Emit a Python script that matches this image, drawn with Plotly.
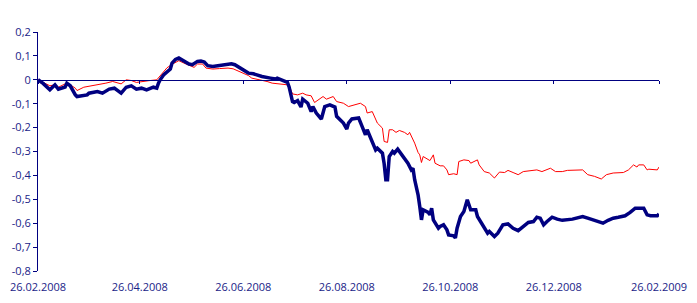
import pandas as pd
import plotly.graph_objects as go

start_date = "2008-02-26"

# days since 26.02.2008 and values
navy_days = [0,3,7,10,12,16,17,19,22,23,29,30,35,38,42,45,49,52,55,58,61,64,68,70,71,72,74,76,78,79,81,83,86,89,91,94,96,98,100,103,106,110,114,116,119,122,124,127,130,132,137,140,141,144,147,148,150,151,153,155,156,159,161,162,164,167,169,172,175,176,178,180,182,183,185,189,191,193,194,197,199,200,203,204,205,206,207,209,210,212,213,215,218,220,221,222,224,225,226,227,230,231,232,233,236,237,239,241,242,245,246,247,249,251,253,255,258,259,262,264,265,266,269,271,274,277,280,283,286,289,292,294,296,298,300,303,306,309,315,321,324,327,330,333,336,339,342,346,349,352,357,359,361,365,366]
navy_vals = [0,-0.015,-0.042,-0.021,-0.039,-0.03,-0.014,-0.025,-0.063,-0.07,-0.063,-0.056,-0.049,-0.056,-0.039,-0.035,-0.056,-0.031,-0.025,-0.039,-0.035,-0.042,-0.031,-0.035,-0.014,0.0,0.02,0.035,0.045,0.07,0.085,0.091,0.077,0.066,0.063,0.077,0.079,0.074,0.059,0.056,0.059,0.063,0.067,0.063,0.049,0.035,0.028,0.025,0.017,0.014,0.007,0.003,0.007,-0.003,-0.011,-0.03,-0.091,-0.095,-0.087,-0.114,-0.081,-0.098,-0.133,-0.112,-0.139,-0.164,-0.112,-0.105,-0.114,-0.153,-0.167,-0.181,-0.206,-0.181,-0.164,-0.16,-0.195,-0.23,-0.209,-0.258,-0.293,-0.286,-0.307,-0.35,-0.418,-0.418,-0.321,-0.3,-0.307,-0.29,-0.3,-0.321,-0.349,-0.377,-0.37,-0.418,-0.481,-0.53,-0.586,-0.544,-0.555,-0.565,-0.537,-0.586,-0.621,-0.614,-0.607,-0.628,-0.649,-0.653,-0.662,-0.621,-0.572,-0.551,-0.502,-0.544,-0.544,-0.572,-0.607,-0.628,-0.642,-0.635,-0.656,-0.642,-0.607,-0.603,-0.621,-0.631,-0.614,-0.597,-0.593,-0.575,-0.579,-0.607,-0.593,-0.575,-0.583,-0.588,-0.583,-0.572,-0.579,-0.586,-0.593,-0.6,-0.588,-0.579,-0.575,-0.569,-0.555,-0.537,-0.537,-0.565,-0.569,-0.569,-0.561]

red_days = [0,3,7,10,12,16,19,22,23,27,32,36,40,44,47,49,52,55,58,61,65,70,72,74,76,79,81,83,86,89,92,94,97,99,103,107,112,115,119,122,124,126,129,132,135,138,142,147,148,150,153,156,158,161,163,165,168,170,174,176,180,183,186,190,193,194,197,199,200,203,204,206,207,209,211,213,216,218,219,222,224,225,226,227,230,231,233,234,237,239,241,242,245,247,248,251,254,255,259,260,263,266,269,272,275,277,280,283,286,290,294,297,302,305,309,312,321,324,328,332,335,339,345,348,351,353,354,357,359,360,365,366]
red_vals = [0,-0.012,-0.025,-0.021,-0.031,-0.017,-0.021,-0.035,-0.045,-0.031,-0.025,-0.021,-0.014,-0.007,-0.014,-0.017,0.0,-0.003,-0.011,-0.007,-0.004,0.0,0.017,0.031,0.05,0.065,0.072,0.08,0.07,0.06,0.052,0.066,0.066,0.049,0.045,0.047,0.049,0.046,0.033,0.023,0.018,0.007,0.003,-0.003,-0.007,-0.014,-0.017,-0.021,-0.025,-0.059,-0.063,-0.056,-0.063,-0.067,-0.095,-0.084,-0.07,-0.081,-0.07,-0.091,-0.098,-0.112,-0.105,-0.098,-0.112,-0.139,-0.133,-0.167,-0.181,-0.202,-0.258,-0.262,-0.209,-0.209,-0.22,-0.212,-0.22,-0.23,-0.22,-0.265,-0.304,-0.314,-0.346,-0.321,-0.335,-0.338,-0.314,-0.349,-0.36,-0.36,-0.377,-0.397,-0.393,-0.397,-0.342,-0.335,-0.338,-0.349,-0.335,-0.356,-0.384,-0.39,-0.411,-0.386,-0.388,-0.379,-0.388,-0.397,-0.384,-0.379,-0.377,-0.384,-0.37,-0.384,-0.384,-0.379,-0.377,-0.397,-0.404,-0.415,-0.397,-0.39,-0.388,-0.377,-0.356,-0.365,-0.356,-0.356,-0.377,-0.374,-0.377,-0.365]

x_tick_dates = ["2008-02-26","2008-04-26","2008-06-26","2008-08-26","2008-10-26","2008-12-26","2009-02-26"]
x_tick_labels = ["26.02.2008","26.04.2008","26.06.2008","26.08.2008","26.10.2008","26.12.2008","26.02.2009"]
y_tick_vals = [0.2,0.1,0,-0.1,-0.2,-0.3,-0.4,-0.5,-0.6,-0.7,-0.8]
y_tick_labels = ["0,2","0,1","0","-0,1","-0,2","-0,3","-0,4","-0,5","-0,6","-0,7","-0,8"]

start = pd.Timestamp(start_date)
navy_x = [start + pd.Timedelta(days=d) for d in navy_days]
red_x = [start + pd.Timedelta(days=d) for d in red_days]

NAVY = "#000080"
TEXT = "#1a2388"
FONT = "Open Sans"
TICKFONT = dict(family=FONT, size=11, color=TEXT)

fig = go.Figure()
fig.add_trace(go.Scatter(x=red_x, y=red_vals, mode="lines",
                         line=dict(color="#ff0000", width=1), xaxis="x", yaxis="y",
                         showlegend=False, hoverinfo="skip"))
fig.add_trace(go.Scatter(x=navy_x, y=navy_vals, mode="lines",
                         line=dict(color=NAVY, width=3.5), xaxis="x2", yaxis="y",
                         showlegend=False, hoverinfo="skip"))

x_range = [x_tick_dates[0], x_tick_dates[-1]]
fig.update_layout(
    width=697, height=303,
    margin=dict(l=38, r=38, t=32, b=32, autoexpand=False),
    paper_bgcolor="white", plot_bgcolor="white",
    font=dict(family=FONT, size=11, color=TEXT),
    xaxis=dict(range=x_range, type="date", tickvals=x_tick_dates, ticktext=x_tick_labels,
               showgrid=False, zeroline=False, showline=False, automargin=False,
               ticks="outside", ticklen=6, tickcolor="rgba(0,0,0,0)",
               tickfont=TICKFONT),
    xaxis2=dict(range=x_range, type="date", overlaying="x", matches="x",
                anchor="free", position=0.8, side="bottom", automargin=False,
                tickvals=x_tick_dates, showticklabels=False,
                showgrid=False, zeroline=False, showline=True, linecolor=NAVY, linewidth=1,
                ticks="outside", ticklen=3, tickcolor=NAVY, tickwidth=1),
    yaxis=dict(range=[-0.8, 0.2], tickvals=y_tick_vals, ticktext=y_tick_labels,
               showgrid=False, zeroline=False, showline=True, linecolor=NAVY, linewidth=1,
               ticks="outside", ticklen=4, tickcolor=NAVY, tickwidth=1, automargin=False,
               tickfont=TICKFONT),
)

fig.write_html("out.html", config={"displayModeBar": False, "staticPlot": True},
               post_script="document.body.style.margin='0';document.body.style.overflow='hidden';")
